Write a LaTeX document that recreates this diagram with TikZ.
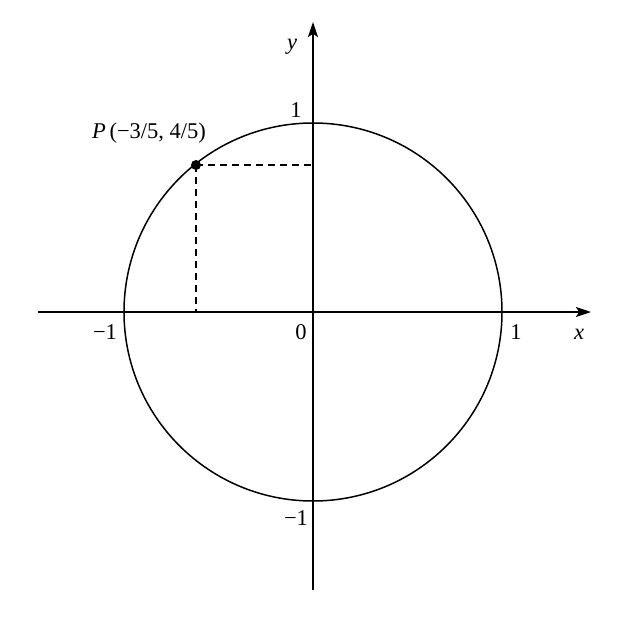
\documentclass[tikz,border=0pt]{standalone}
\usepackage{fontspec}
\setmainfont{Liberation Serif}
\usetikzlibrary{arrows.meta}
\begin{document}
\begin{tikzpicture}[x=1pt,y=-1pt,
  axis/.style={line width=1.6pt,-{Stealth[length=15pt,width=10pt,inset=3pt]}},
  guide/.style={line width=1.4pt,dash pattern=on 7pt off 5pt},
  lbl/.style={font=\fontsize{22.5}{26}\selectfont,inner sep=0pt}]
\useasboundingbox (0,0) rectangle (627,627);
\coordinate (O) at (313,312);
\coordinate (xs) at (38,312);
\coordinate (xe) at (591,312);
\coordinate (ys) at (313,590);
\coordinate (ye) at (313,22);
\coordinate (P) at (196,165);
\coordinate (Px) at (196,312);
\coordinate (Py) at (313,165);
\draw[line width=1.5pt] (O) circle[radius=189];
\draw[axis] (xs) -- (xe);
\draw[axis] (ys) -- (ye);
\draw[guide] (P) -- (Px);
\draw[guide] (P) -- (Py);
\fill (P) circle[radius=5];
\node[lbl] (ylab) at (292,47) {\textit{y}};
\node[lbl] (xlab) at (579,334) {\textit{x}};
\node[lbl] (one_y) at (296,110) {1};
\node[lbl] (one_x) at (516,332) {1};
\node[lbl] (mone_x) at (105,332) {−1};
\node[lbl] (zero) at (301,332) {0};
\node[lbl] (mone_y) at (296,518) {−1};
\node[lbl] (plab) at (149,133) {\textit{P}\,(−3/5, 4/5)};
\end{tikzpicture}
\end{document}
